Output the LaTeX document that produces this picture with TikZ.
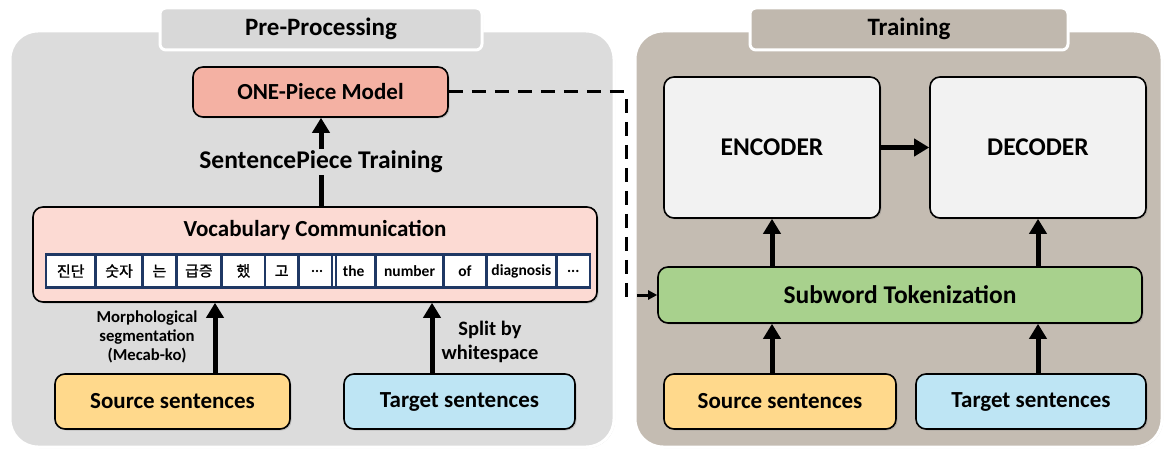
\documentclass[tikz,border=0pt]{standalone}
\usepackage{fontspec}
\setmainfont{Carlito}
\newfontfamily\kr[FakeBold=1.2]{Noto Sans CJK KR}
\usetikzlibrary{arrows.meta,shadows,fit,calc}
\definecolor{panelL}{RGB}{220,220,220}
\definecolor{panelR}{RGB}{196,188,178}
\definecolor{tabL}{RGB}{216,216,216}
\definecolor{tabR}{RGB}{192,184,174}
\definecolor{onecol}{RGB}{244,177,163}
\definecolor{vocabcol}{RGB}{252,218,211}
\definecolor{srccol}{RGB}{255,217,140}
\definecolor{tgtcol}{RGB}{190,229,244}
\definecolor{subcol}{RGB}{168,209,141}
\definecolor{enccol}{RGB}{242,242,242}
\definecolor{navy}{RGB}{31,56,100}
\tikzset{
  panel/.style={draw=white, line width=3pt, rounded corners=28pt,
    drop shadow={shadow xshift=1pt, shadow yshift=-1pt, opacity=0.35}},
  tabbox/.style={draw=white, line width=3pt, rounded corners=6pt,
    drop shadow={shadow xshift=1pt, shadow yshift=-1pt, opacity=0.35},
    font=\fontsize{25}{28}\selectfont\bfseries},
  box/.style={draw=black, line width=1.6pt, rounded corners=10pt,
    drop shadow={shadow xshift=1.5pt, shadow yshift=-1.5pt, opacity=0.3}},
  cell/.style={draw=navy, line width=1.4pt, fill=white, minimum height=32pt,
    inner sep=0pt, anchor=west},
  grp/.style={draw=navy, line width=2.4pt, inner sep=0pt},
  arr/.style={line width=5pt, -{Triangle[length=15pt,width=17pt]}},
  dashline/.style={line width=3pt, dash pattern=on 14pt off 9pt},
  boxtxt/.style={font=\fontsize{23}{26}\selectfont\bfseries},
  bigtxt/.style={font=\fontsize{25.5}{28}\selectfont\bfseries},
}
\begin{document}
\begin{tikzpicture}[x=1pt,y=-1pt]
\useasboundingbox (0,0) rectangle (1164,454);
% panels
\node[panel, fill=panelL, minimum width=604pt, minimum height=416pt] (pre) at (312,239) {};
\node[panel, fill=panelR, minimum width=527pt, minimum height=416pt] (trn) at (898.5,239) {};
\node[tabbox, fill=tabL, minimum width=322pt, minimum height=42pt] (pretab) at (321,29) {Pre-Processing};
\node[tabbox, fill=tabR, minimum width=318pt, minimum height=42pt] (trntab) at (909,29) {Training};

% left panel
\node[box, fill=onecol, minimum width=255pt, minimum height=50pt, boxtxt] (one) at (320.5,92) {ONE-Piece Model};
\node[box, fill=vocabcol, minimum width=564pt, minimum height=95pt] (vocab) at (315,254.5) {};
\node[font=\fontsize{23}{26}\selectfont\bfseries] (vtitle) at (315,230) {Vocabulary Communication};
\node[bigtxt, inner sep=2pt] (sp) at (321,162) {SentencePiece Training};

\begin{scope}[every node/.append style={font=\kr\fontsize{15}{17}\selectfont}]
\node[cell, minimum width=48pt] (k1) at (46,271) {진단};
\node[cell, minimum width=46pt] (k2) at (k1.east) {숫자};
\node[cell, minimum width=32pt] (k3) at (k2.east) {는};
\node[cell, minimum width=44pt] (k4) at (k3.east) {급증};
\node[cell, minimum width=42pt] (k5) at (k4.east) {했};
\node[cell, minimum width=32pt] (k6) at (k5.east) {고};
\node[cell, minimum width=36pt, font=\fontsize{15}{17}\selectfont\bfseries] (k7) at (k6.east) {...};
\end{scope}
\begin{scope}[every node/.append style={font=\fontsize{15.5}{17}\selectfont\bfseries}]
\node[cell, minimum width=42pt] (e1) at (332,271) {the};
\node[cell, minimum width=67pt] (e2) at (e1.east) {number};
\node[cell, minimum width=41pt] (e3) at (e2.east) {of};
\node[cell, minimum width=69pt] (e4) at (e3.east) {diagnosis};
\node[cell, minimum width=32pt] (e5) at (e4.east) {...};
\end{scope}
\node[grp, fit=(k1)(k7)] (kgrp) {};
\node[grp, fit=(e1)(e5)] (egrp) {};

\node[box, fill=srccol, minimum width=235pt, minimum height=55pt, boxtxt] (src1) at (172.5,401.5) {Source sentences};
\node[box, fill=tgtcol, minimum width=231pt, minimum height=55pt, boxtxt] (tgt1) at (459.5,401.5) {Target sentences};

\node[align=center, font=\fontsize{16.7}{19}\selectfont\bfseries] (morph) at (147,337) {Morphological\\segmentation\\(Mecab-ko)};
\node[align=center, font=\fontsize{20.5}{24}\selectfont\bfseries] (split) at (490,342) {Split by\\whitespace};

\draw[line width=5pt] (vocab.north -| sp.south) -- (sp.south);
\draw[arr] (sp.north) -- (sp.north |- one.south);
\draw[arr] ([xshift=42.5pt]src1.north) -- ([xshift=42.5pt]src1.north |- vocab.south);
\draw[arr] ([xshift=-27.5pt]tgt1.north) -- ([xshift=-27.5pt]tgt1.north |- vocab.south);

% right panel
\node[box, fill=enccol, minimum width=216pt, minimum height=141pt, bigtxt] (enc) at (772,147.5) {ENCODER};
\node[box, fill=enccol, minimum width=216pt, minimum height=141pt, bigtxt] (dec) at (1038,147.5) {DECODER};
\node[box, fill=subcol, minimum width=484pt, minimum height=56pt, bigtxt] (sub) at (900,295) {Subword Tokenization};
\node[box, fill=srccol, minimum width=232pt, minimum height=55pt, boxtxt] (src2) at (780,401.5) {Source sentences};
\node[box, fill=tgtcol, minimum width=230pt, minimum height=55pt, boxtxt] (tgt2) at (1031,401.5) {Target sentences};

\draw[arr] (enc.east) -- (dec.west);
\draw[arr] (sub.north -| enc.south) -- (enc.south);
\draw[arr] (sub.north -| dec.south) -- (dec.south);
\draw[arr] (src2.north -| enc.south) -- (sub.south -| enc.south);
\draw[arr] (tgt2.north -| dec.south) -- (sub.south -| dec.south);

% dashed connection
\coordinate (d1) at (626,92);
\draw[dashline, -{Triangle[length=9pt,width=9pt]}] (one.east) -- (one.east -| d1) -- (d1 |- sub.west) -- (sub.west);
\end{tikzpicture}
\end{document}
